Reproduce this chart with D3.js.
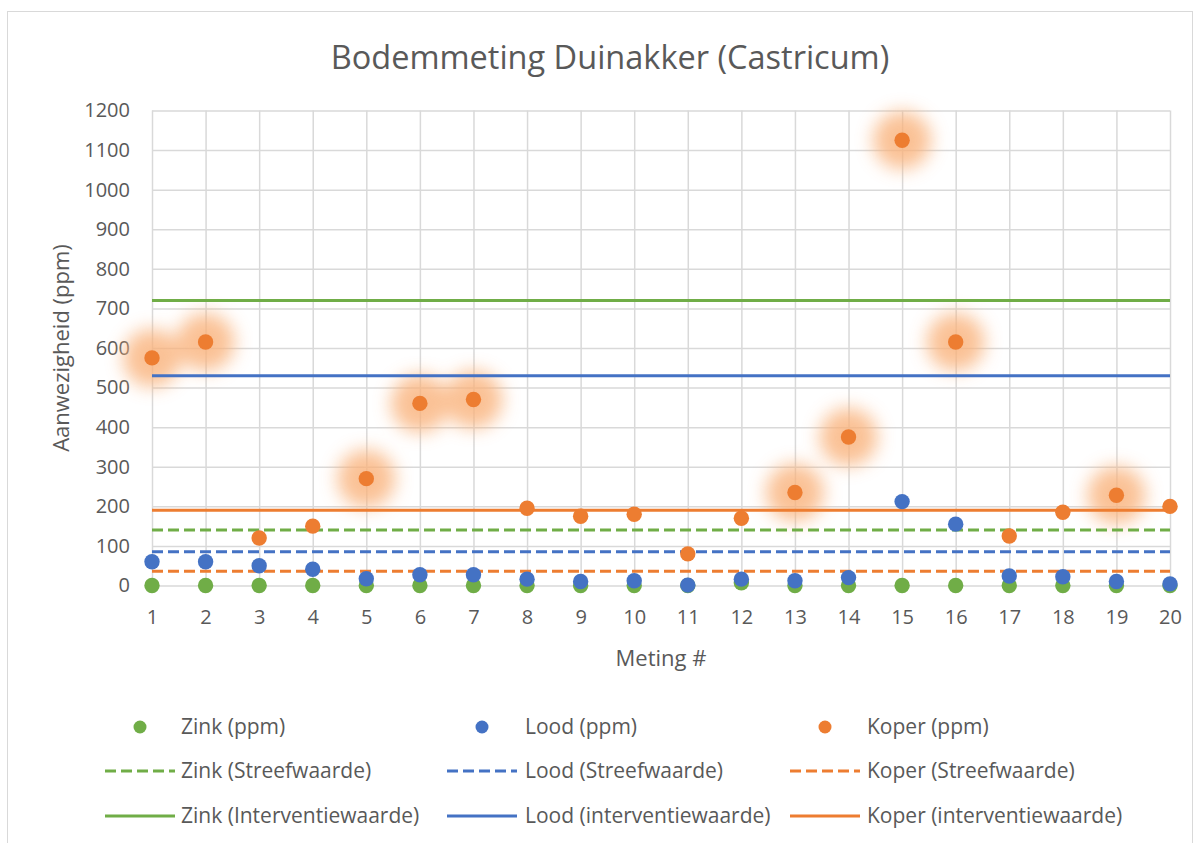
<!DOCTYPE html>
<html>
<head>
<meta charset="utf-8">
<script src="https://cdn.jsdelivr.net/npm/d3@7"></script>
<style>
  html, body { margin: 0; padding: 0; background: #ffffff; }
  svg { display: block; font-family: "Open Sans", "Noto Sans", sans-serif; }
</style>
</head>
<body>
<svg id="chart" width="1204" height="843"></svg>
<script>
// ---- data ----
const title = "Bodemmeting Duinakker (Castricum)";
const xTitle = "Meting #";
const yTitle = "Aanwezigheid (ppm)";
const categories = [1,2,3,4,5,6,7,8,9,10,11,12,13,14,15,16,17,18,19,20];
const yTicks = [0,100,200,300,400,500,600,700,800,900,1000,1100,1200];

const zinkValues  = [0,0,0,0,0,0,0,0,0,0,0,7,0,0,0,0,0,0,0,0];
const loodValues  = [60,60,50,41,17,27,27,16,10,12,1,16,12,20,212,155,24,22,10,4];
const koperValues = [575,615,120,150,270,460,470,195,175,180,80,170,235,375,1125,615,125,185,228,200];
const koperGlow   = [true,true,false,false,true,true,true,false,false,false,false,false,true,true,true,true,false,false,true,false];

const seriesNames = ["Zink (ppm)", "Lood (ppm)", "Koper (ppm)"];
const streefNames = ["Zink (Streefwaarde)", "Lood (Streefwaarde)", "Koper (Streefwaarde)"];
const interventieNames = ["Zink (Interventiewaarde)", "Lood (interventiewaarde)", "Koper (interventiewaarde)"];
const streefValues = [140, 85, 36];
const interventieValues = [720, 530, 190];
const colors = ["#70AD47", "#4472C4", "#ED7D31"];

// ---- layout ----
(function draw() {
const svg = d3.select("#chart");
const pL = 152, pR = 1170, pT = 110.5, pB = 585.5;
const x = d3.scaleLinear().domain([1, 20]).range([pL, pR]);
const y = d3.scaleLinear().domain([0, 1200]).range([pB, pT]);
const textColor = "#595959";
const gridColor = "#D9D9D9";

// chart border
svg.append("rect").attr("x", 7.5).attr("y", 11.5).attr("width", 1185).attr("height", 840)
  .attr("fill", "none").attr("stroke", gridColor).attr("stroke-width", 1);

// title
svg.append("text").attr("x", 610).attr("y", 69).attr("text-anchor", "middle")
  .attr("font-size", 32.5).attr("fill", textColor).text(title);

// y axis + horizontal grid
const yAxis = svg.append("g").attr("transform", `translate(${pL},0)`)
  .call(d3.axisLeft(y).tickValues(yTicks).tickFormat(d3.format("d")).tickSize(-(pR - pL)).tickPadding(22));
yAxis.select(".domain").remove();
yAxis.selectAll(".tick line").attr("stroke", gridColor).attr("stroke-width", 1.5);
yAxis.selectAll(".tick text").attr("fill", textColor).attr("font-size", 20)
  .attr("font-family", "'Open Sans', sans-serif");

// x axis + vertical grid
const xAxis = svg.append("g").attr("transform", `translate(0,${pB})`)
  .call(d3.axisBottom(x).tickValues(categories).tickFormat(d3.format("d")).tickSize(-(pB - pT)).tickPadding(24));
xAxis.select(".domain").remove();
xAxis.selectAll(".tick line").attr("stroke", gridColor).attr("stroke-width", 1.5);
xAxis.selectAll(".tick text").attr("fill", textColor).attr("font-size", 20)
  .attr("font-family", "'Open Sans', sans-serif").attr("dy", "0.71em");

// axis titles
svg.append("text").attr("transform", `translate(69,348) rotate(-90)`).attr("text-anchor", "middle")
  .attr("font-size", 22).attr("fill", textColor).text(yTitle);
svg.append("text").attr("x", (pL + pR) / 2).attr("y", 666).attr("text-anchor", "middle")
  .attr("font-size", 22).attr("fill", textColor).text(xTitle);

// glow filter
const defs = svg.append("defs");
defs.append("filter").attr("id", "glow").attr("x", "-50%").attr("y", "-50%").attr("width", "200%").attr("height", "200%")
  .append("feGaussianBlur").attr("stdDeviation", 9);

const koperData = categories.map((c, i) => ({ c, v: koperValues[i], g: koperGlow[i] }));
svg.append("g").attr("filter", "url(#glow)").attr("opacity", 0.8)
  .selectAll("circle").data(koperData.filter(d => d.g)).join("circle")
  .attr("cx", d => x(d.c)).attr("cy", d => y(d.v)).attr("r", 29).attr("fill", "#F9B27C");

// reference lines
const lineG = svg.append("g");
streefValues.forEach((v, i) => {
  lineG.append("line").attr("x1", x(categories[0])).attr("x2", x(categories[categories.length - 1]))
    .attr("y1", y(v)).attr("y2", y(v)).attr("stroke", colors[i]).attr("stroke-width", 3)
    .attr("stroke-dasharray", "11,5");
});
interventieValues.forEach((v, i) => {
  lineG.append("line").attr("x1", x(categories[0])).attr("x2", x(categories[categories.length - 1]))
    .attr("y1", y(v)).attr("y2", y(v)).attr("stroke", colors[i]).attr("stroke-width", 3);
});

// points
[zinkValues, loodValues, koperValues].forEach((vals, si) => {
  svg.append("g").selectAll("circle").data(vals).join("circle")
    .attr("cx", (d, i) => x(categories[i])).attr("cy", d => y(d)).attr("r", 7.7)
    .attr("fill", colors[si]);
});

// legend
const colX = [140, 482, 825];
const textX = [181, 525, 867];
const rowY = [727, 771, 816];
const fs = 21;
const legend = svg.append("g");
seriesNames.forEach((name, i) => {
  legend.append("circle").attr("cx", colX[i]).attr("cy", rowY[0]).attr("r", 6.5).attr("fill", colors[i]);
  legend.append("text").attr("x", textX[i]).attr("y", rowY[0]).attr("dy", "0.35em")
    .attr("font-size", fs).attr("fill", textColor).text(name);
});
streefNames.forEach((name, i) => {
  legend.append("line").attr("x1", colX[i] - 35).attr("x2", colX[i] + 35).attr("y1", rowY[1]).attr("y2", rowY[1])
    .attr("stroke", colors[i]).attr("stroke-width", 3).attr("stroke-dasharray", "11,5");
  legend.append("text").attr("x", textX[i]).attr("y", rowY[1]).attr("dy", "0.35em")
    .attr("font-size", fs).attr("fill", textColor).text(name);
});
interventieNames.forEach((name, i) => {
  legend.append("line").attr("x1", colX[i] - 35).attr("x2", colX[i] + 35).attr("y1", rowY[2]).attr("y2", rowY[2])
    .attr("stroke", colors[i]).attr("stroke-width", 3);
  legend.append("text").attr("x", textX[i]).attr("y", rowY[2]).attr("dy", "0.35em")
    .attr("font-size", fs).attr("fill", textColor).text(name);
});
})();
</script>
</body>
</html>
